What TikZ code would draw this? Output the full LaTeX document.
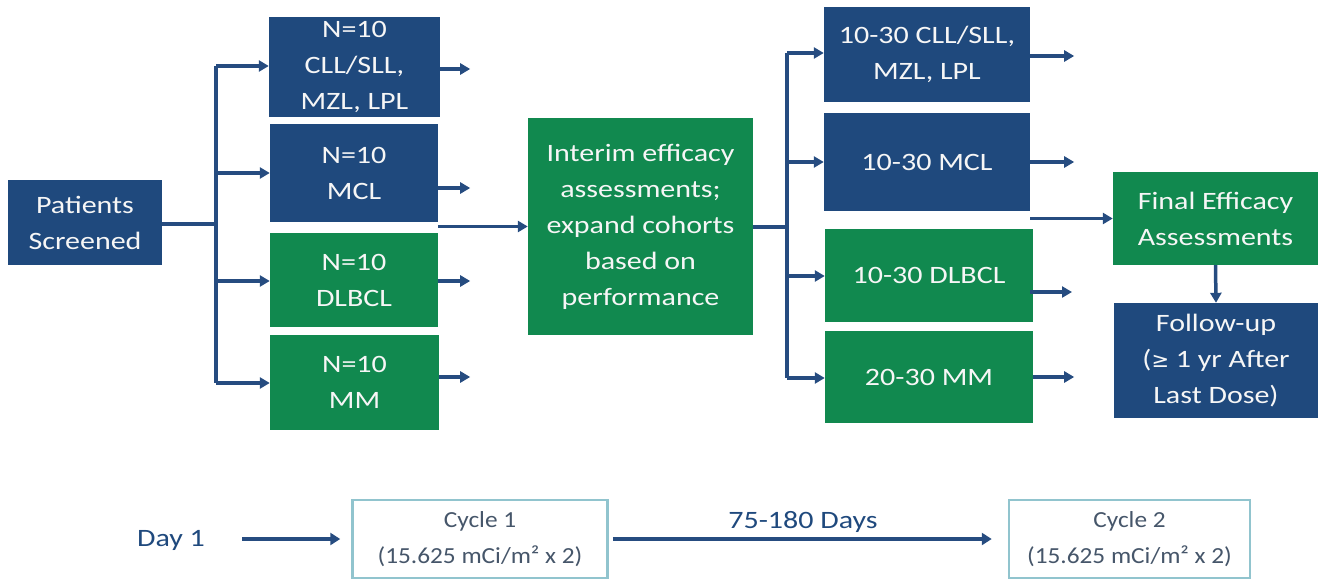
\documentclass[tikz,border=0pt]{standalone}
\usepackage{fontspec}
\setmainfont{Carlito}[FakeStretch=1.2]
\newfontfamily\cyclefont{Carlito}[FakeStretch=1.1]
\newfontfamily\symfont{DejaVu Sans}
\usetikzlibrary{arrows.meta}
\definecolor{navy}{RGB}{31,73,125}
\definecolor{leaf}{RGB}{17,137,79}
\definecolor{wire}{RGB}{38,76,128}
\definecolor{rim}{RGB}{145,196,206}
\definecolor{ink}{RGB}{70,86,106}
\definecolor{paper}{RGB}{246,246,246}

\begin{document}
\begin{tikzpicture}[x=1pt,y=-1pt,
  box/.style={draw=none, inner sep=0pt, text=paper, align=center,
    font=\fontsize{25}{36}\selectfont},
  bluebox/.style={box, fill=navy},
  greenbox/.style={box, fill=leaf},
  cyclebox/.style={draw=rim, line width=2.5pt, fill=white, inner sep=0pt,
    align=center, text=ink, font=\cyclefont\fontsize{23}{36}\selectfont},
  arr/.style={draw=wire, line width=3.5pt, -{Triangle[length=10pt,width=11pt]}},
  thickarr/.style={draw=wire, line width=4.5pt, -{Triangle[length=10pt,width=12pt]}},
  link/.style={draw=wire, line width=3.5pt}]

\useasboundingbox (0,0) rectangle (1318,579);

% screening and first cohorts
\node[bluebox, minimum width=154, minimum height=85] (ps) at (85,222.5) {Patients\\Screened};
\node[bluebox, minimum width=171, minimum height=100] (a1) at (354.5,67) {N=10\\CLL/SLL,\\MZL, LPL};
\node[bluebox, minimum width=168, minimum height=98] (a2) at (354,173) {N=10\\MCL};
\node[greenbox, minimum width=168, minimum height=94] (a3) at (354,280) {N=10\\DLBCL};
\node[greenbox, minimum width=169, minimum height=95] (a4) at (354.5,382.5) {N=10\\MM};

% interim step
\node[greenbox, minimum width=225, minimum height=217] (im) at (640.5,226.5)
  {Interim efficacy\\assessments;\\expand cohorts\\based on\\performance};

% expansion cohorts
\node[bluebox, minimum width=206, minimum height=95] (b1) at (927,54.5) {10-30 CLL/SLL,\\MZL, LPL};
\node[bluebox, minimum width=206, minimum height=98] (b2) at (927,162) {10-30 MCL};
\node[greenbox, minimum width=208, minimum height=93] (b3) at (929,275.5) {10-30 DLBCL};
\node[greenbox, minimum width=208, minimum height=92] (b4) at (929,377) {20-30 MM};

% final steps
\node[greenbox, minimum width=205, minimum height=93] (fe) at (1215.5,218.5) {Final Efficacy\\Assessments};
\node[bluebox, minimum width=204, minimum height=115] (fu) at (1216,360.5)
  {Follow-up\\({\symfont\fontsize{21}{36}\selectfont ≥} 1 yr After\\Last Dose)};

% branching from screening
\coordinate (j1) at (216,224);
\draw[link] (ps.east |- j1) -- (j1);
\draw[link] (216,66) -- (216,383);
\draw[arr] (216,66) -- (a1.west |- 0,66);
\draw[arr] (216,173) -- (a2.west);
\draw[arr] (216,281) -- (a3.west |- 0,281);
\draw[arr] (216,383) -- (a4.west |- 0,383);

% outgoing stubs of the first cohorts
\draw[arr] (a1.east |- 0,69) -- ++(30,0);
\draw[arr] (a2.east |- 0,188) -- ++(32,0);
\draw[arr] (a3.east |- 0,281) -- ++(32,0);
\draw[arr] (a4.east |- 0,377) -- ++(31,0);
\draw[arr] (a2.east |- im.west) -- (im.west);

% branching from interim step
\coordinate (j2) at (787,227);
\draw[link] (im.east |- j2) -- (j2);
\draw[link] (787,53) -- (787,378);
\draw[arr] (787,53) -- (b1.west |- 0,53);
\draw[arr] (787,162) -- (b2.west);
\draw[arr] (787,276) -- (b3.west |- 0,276);
\draw[arr] (787,378) -- (b4.west |- 0,378);

% outgoing stubs of the expansion cohorts
\draw[arr] (b1.east |- 0,56) -- ++(44,0);
\draw[arr] (b2.east |- 0,162) -- ++(44,0);
\draw[arr] (1030,292) -- ++(42,0);
\draw[arr] (b4.east |- 0,377) -- ++(41,0);
\draw[arr] (b2.east |- fe.west) -- (fe.west);
\draw[arr] (fe.south) -- (fu.north);

% dosing timeline
\node[text=navy, font=\fontsize{25}{30}\selectfont, inner sep=0pt] (d1) at (171,540) {Day 1};
\node[cyclebox, minimum width=255, minimum height=78] (c1) at (480,539) {Cycle 1\\(15.625 mCi/m² x 2)};
\node[cyclebox, minimum width=241, minimum height=78] (c2) at (1129.5,539) {Cycle 2\\(15.625 mCi/m² x 2)};
\node[text=navy, font=\fontsize{25}{30}\selectfont, inner sep=0pt] (gap) at (803,522) {75-180 Days};
\draw[thickarr, shorten <=37pt, shorten >=11pt] (d1.east |- c1.west) -- (c1.west);
\draw[thickarr, shorten <=4pt, shorten >=16pt] (c1.east) -- (c2.west);

\end{tikzpicture}
\end{document}
